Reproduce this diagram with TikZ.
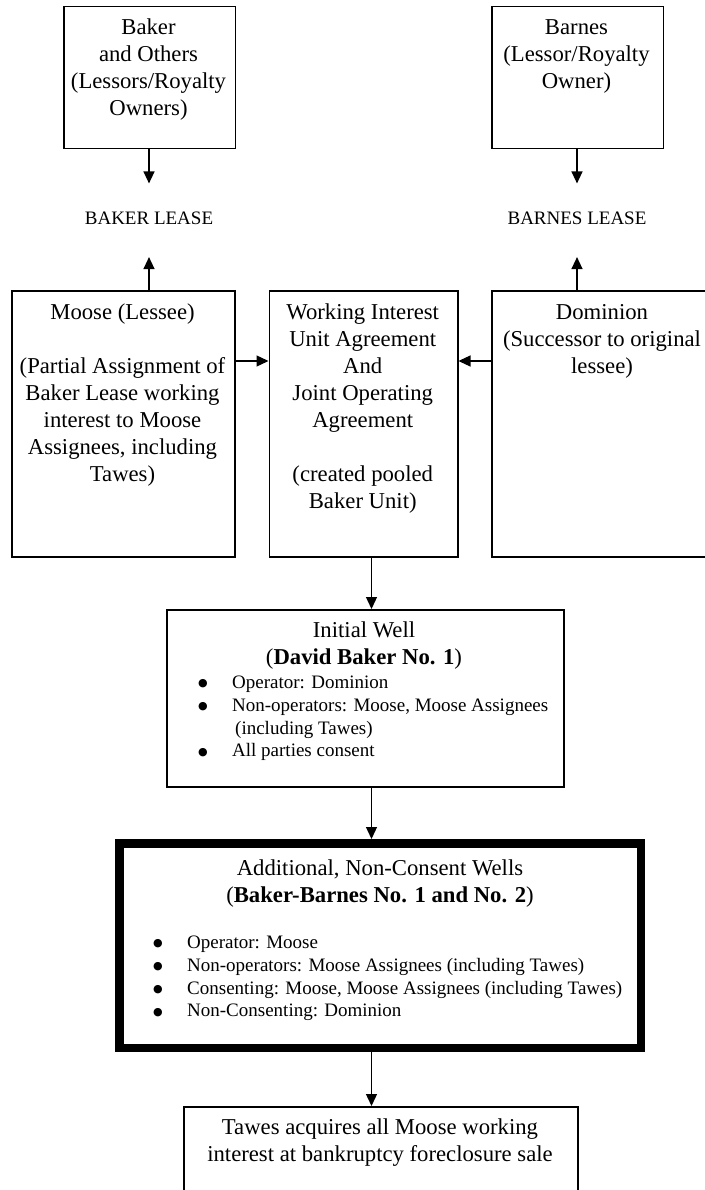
\documentclass[tikz,border=0pt]{standalone}
\usepackage{fontspec}
\setmainfont{Liberation Serif}
\newfontfamily\dejavu{DejaVu Sans}
\usetikzlibrary{arrows.meta}
\newcommand\bigf{\fontsize{22.7}{27}\selectfont}
\newcommand\smallf{\fontsize{19}{22.8}\selectfont}
\newcommand\st{\rule{0pt}{18pt}}
\newcommand\bul{\raisebox{1.8pt}{\dejavu\fontsize{11}{13}\selectfont ●}}
\begin{document}
\begin{tikzpicture}[x=1pt,y=-1pt,
  box/.style={draw, line width=1.5pt, anchor=north west, inner sep=0},
  thickbox/.style={draw, line width=8.5pt, anchor=north west, inner sep=0},
  txt/.style={inner sep=0, align=center, font=\bigf, anchor=north},
  lst/.style={inner sep=0, anchor=north west, font=\smallf},
  lease/.style={inner sep=0, font=\smallf},
  arr/.style={line width=1.3pt, -{Triangle[width=11pt,length=12pt]}}]
\useasboundingbox (0,0) rectangle (704,1190);
\coordinate (ax) at (371.5,0);
% top row
\node[box, minimum width=171.5pt, minimum height=142pt] (baker) at (63,6) {};
\node[txt] (bakert) at (148.5,16.5) {\st Baker\\and Others\\(Lessors/Royalty\\Owners)};
\node[box, minimum width=171.5pt, minimum height=142pt] (barnes) at (491,6) {};
\node[txt] (barnest) at (576.5,16.5) {\st Barnes\\(Lessor/Royalty\\Owner)};
% leases
\node[lease] (bakerlease) at (149,218) {BAKER LEASE};
\node[lease] (barneslease) at (577,218) {BARNES LEASE};
% middle row
\node[box, minimum width=223pt, minimum height=266pt] (moose) at (11,290) {};
\node[txt] (mooset) at (122.5,301.5) {\st Moose (Lessee)\\[27pt](Partial Assignment of\\Baker Lease working\\interest to Moose\\Assignees, including\\Tawes)};
\node[box, minimum width=188.5pt, minimum height=266pt] (wi) at (268.5,290) {};
\node[txt] (wit) at (362.75,301.5) {\st Working Interest\\Unit Agreement\\And\\Joint Operating\\Agreement\\[27pt](created pooled\\Baker Unit)};
\node[box, minimum width=222pt, minimum height=266pt] (dom) at (491,290) {};
\node[txt] (domt) at (602,301.5) {\st Dominion\\(Successor to original\\lessee)};
% initial well
\node[box, minimum width=397pt, minimum height=177pt] (init) at (166,609) {};
\node[txt] (initt) at (364,619.5) {\st Initial Well\\(\textbf{David Baker No. 1})};
\node[lst] (initl) at (198,672.3) {\begin{tabular}{@{}p{34pt}@{}l@{}}
\bul & Operator: Dominion\\
\bul & Non-operators: Moose, Moose Assignees\\
 & \hspace{3pt}(including Tawes)\\
\bul & All parties consent
\end{tabular}};
% thick box
\node[thickbox, minimum width=521.5pt, minimum height=204.5pt] (thick) at (115,839) {};
\node[txt] (thickt) at (380,857.5) {\st Additional, Non-Consent Wells\\(\textbf{Baker-Barnes No. 1 and No. 2})};
\node[lst] (thickl) at (153,932.3) {\begin{tabular}{@{}p{34pt}@{}l@{}}
\bul & Operator: Moose\\
\bul & Non-operators: Moose Assignees (including Tawes)\\
\bul & Consenting: Moose, Moose Assignees (including Tawes)\\
\bul & Non-Consenting: Dominion
\end{tabular}};
% final
\node[box, minimum width=394pt, minimum height=120pt] (final) at (183,1106) {};
\node[txt] (finalt) at (380,1116.5) {\st Tawes acquires all Moose working\\interest at bankruptcy foreclosure sale};
% connectors
\draw[arr, shorten >=28pt] (baker.south -| bakerlease.north) -- (bakerlease.north);
\draw[arr, shorten >=28pt] (barnes.south -| barneslease.north) -- (barneslease.north);
\draw[arr, shorten >=32.5pt] (moose.north -| bakerlease.south) -- (bakerlease.south);
\draw[arr, shorten >=32.5pt] (dom.north -| barneslease.south) -- (barneslease.south);
\draw[arr] ([yshift=-71pt]moose.north east) -- ([yshift=-71pt]wi.north west);
\draw[arr] ([yshift=-71pt]dom.north west) -- ([yshift=-71pt]wi.north east);
\draw[arr] (wi.south -| ax) -- (init.north -| ax);
\draw[arr] (init.south -| ax) -- (thick.north -| ax);
\draw[arr] (thick.south -| ax) -- (final.north -| ax);
\end{tikzpicture}
\end{document}
